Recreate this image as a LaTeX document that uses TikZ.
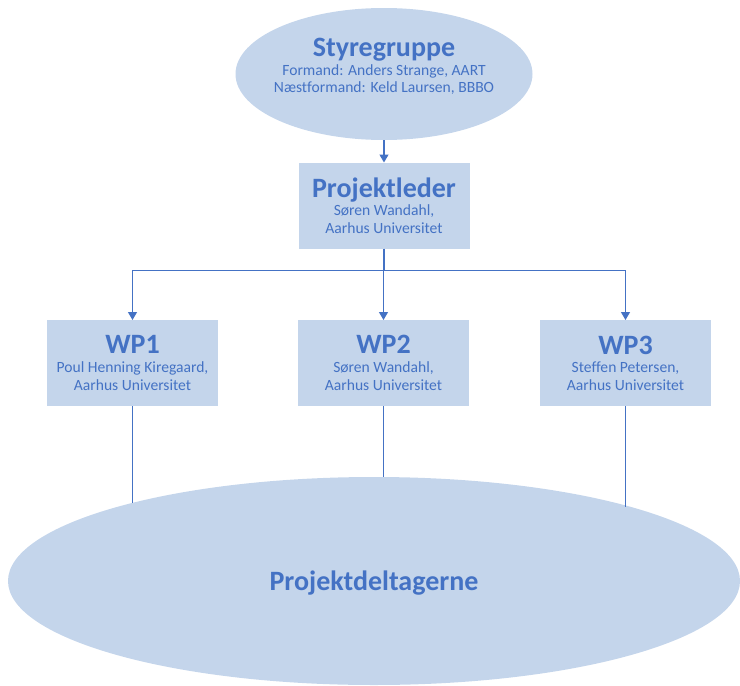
\documentclass[tikz,border=0pt]{standalone}
\usepackage{fontspec}
\setmainfont{Carlito}[Ligatures=NoCommon]
\usetikzlibrary{shapes.geometric,arrows.meta}
\definecolor{unitfill}{HTML}{C4D5EB}
\definecolor{unitblue}{HTML}{4472C4}
\newcommand\unittitle[1]{{\fontsize{28}{28}\selectfont\bfseries\rule[-7pt]{0pt}{7pt}#1}}
\begin{document}
\begin{tikzpicture}[x=1pt,y=-1pt,
    unit/.style={fill=unitfill,text=unitblue,align=center,inner sep=0pt,outer sep=0pt,
      font=\fontsize{15.6}{17.5}\selectfont},
    wpbox/.style={unit,rectangle,minimum width=171pt,minimum height=86pt},
    link/.style={draw=unitblue,line width=1.3pt},
    tip/.style={link,-{Triangle[width=9pt,length=8pt]}}]
	\useasboundingbox (0,0) rectangle (740,686);

	% styregruppe og projektleder
	\node[unit,ellipse,minimum width=297pt,minimum height=132pt,inner xsep=-10pt,text depth=17pt] (sg) at (384,74)
	    {\unittitle{Styregruppe}\\Formand: Anders Strange, AART\\N\ae stformand: Keld Laursen, BBBO};
	\node[wpbox] (pl) at (384,205.5) {\unittitle{Projektleder}\\S\o ren Wandahl,\\Aarhus Universitet};

	% arbejdspakker
	\node[wpbox] (wp1) at (132.5,363) {\unittitle{WP1}\\Poul Henning Kiregaard,\\Aarhus Universitet};
	\node[wpbox] (wp2) at (383.5,363) {\unittitle{WP2}\\S\o ren Wandahl,\\Aarhus Universitet};
	\node[wpbox] (wp3) at (625.5,363) {\unittitle{WP3}\\Steffen Petersen,\\Aarhus Universitet};

	\node[unit,ellipse,minimum width=732pt,minimum height=208pt,text depth=0pt] (pd) at (374,581) {\unittitle{Projektdeltagerne}};

	% forbindelser
	\draw[tip] (sg) -- (pl);
	\draw[link] (pl.south) -- ++(0,22) coordinate (fork);
	\foreach \w in {wp1,wp2,wp3}
	    \draw[tip] (fork) -| (\w.north);
	\draw[link] (wp1.south) -- (wp1.south |- pd.162);
	\draw[link] (wp2.south) -- (wp2.south |- pd.north);
	\draw[link] (wp3.south) -- (wp3.south |- pd.16.7);
\end{tikzpicture}
\end{document}
